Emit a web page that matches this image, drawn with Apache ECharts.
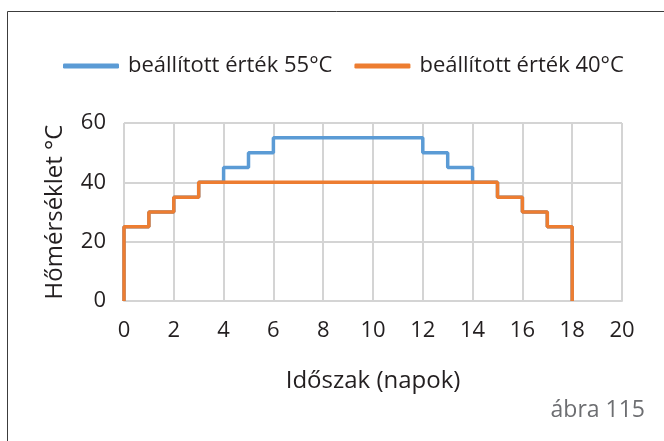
<!DOCTYPE html>
<html>
<head>
<meta charset="utf-8">
<script src="https://cdn.jsdelivr.net/npm/echarts@6/dist/echarts.min.js"></script>
<style>
  html, body { margin: 0; padding: 0; background: #fff; }
  #chart { width: 664px; height: 441px; }
</style>
</head>
<body>
<div id="chart"></div>
<script>
// Daily set-point temperatures (°C) for days 0..17 of the drying programme
const seriesNames = ['beállított érték 55°C', 'beállított érték 40°C'];
const days = [0, 1, 2, 3, 4, 5, 6, 7, 8, 9, 10, 11, 12, 13, 14, 15, 16, 17];
const temps55 = [25, 30, 35, 40, 45, 50, 55, 55, 55, 55, 55, 55, 50, 45, 40, 35, 30, 25];
const temps40 = [25, 30, 35, 40, 40, 40, 40, 40, 40, 40, 40, 40, 40, 40, 40, 35, 30, 25];
const programEnd = 18;
const xTicks = [0, 2, 4, 6, 8, 10, 12, 14, 16, 18, 20];
const yTicks = [0, 20, 40, 60];

// Turn the per-day values into a step outline that starts and ends at 0 °C
function stepOutline(dayList, values, endDay) {
  const pts = [[dayList[0], 0]];
  for (let i = 0; i < dayList.length; i++) {
    const next = i + 1 < dayList.length ? dayList[i + 1] : endDay;
    pts.push([dayList[i], values[i]]);
    pts.push([next, values[i]]);
  }
  pts.push([endDay, 0]);
  return pts;
}

const FONT = '"Open Sans", "Noto Sans", sans-serif';
const TEXT = '#231f20';
const GRID = '#d4d4d4';

const chart = echarts.init(document.getElementById('chart'), null, { renderer: 'canvas' });
chart.setOption({
  animation: false,
  textStyle: { fontFamily: FONT },
  legend: {
    left: 58,
    top: 50,
    icon: 'roundRect',
    itemWidth: 56,
    itemHeight: 5,
    itemGap: 22,
    textStyle: { fontFamily: FONT, fontSize: 22, color: TEXT, padding: [0, 0, 0, 4] },
    data: seriesNames
  },
  grid: { left: 124, right: 42, top: 123, bottom: 140, containLabel: false },
  xAxis: {
    type: 'value',
    min: xTicks[0],
    max: xTicks[xTicks.length - 1],
    interval: xTicks[1] - xTicks[0],
    name: 'Időszak (napok)',
    nameLocation: 'middle',
    nameGap: 68,
    nameTextStyle: { fontFamily: FONT, fontSize: 24, color: TEXT },
    axisLine: { show: true, lineStyle: { color: GRID, width: 2 } },
    axisTick: { show: false },
    axisLabel: { margin: 19, fontFamily: FONT, fontSize: 22, color: TEXT },
    splitLine: { show: true, lineStyle: { color: GRID, width: 2 } }
  },
  yAxis: {
    type: 'value',
    min: yTicks[0],
    max: yTicks[yTicks.length - 1],
    interval: yTicks[1] - yTicks[0],
    name: 'Hőmérséklet °C',
    nameLocation: 'middle',
    nameRotate: 90,
    nameGap: 57,
    nameTextStyle: { fontFamily: FONT, fontSize: 24, color: TEXT },
    axisLine: { show: false },
    axisTick: { show: false },
    axisLabel: { margin: 18, fontFamily: FONT, fontSize: 22, color: TEXT },
    splitLine: { show: true, lineStyle: { color: GRID, width: 2 } }
  },
  series: [
    {
      name: seriesNames[0],
      type: 'line',
      data: stepOutline(days, temps55, programEnd),
      showSymbol: false,
      symbol: 'none',
      lineStyle: { color: '#5b9bd5', width: 3.5 },
      itemStyle: { color: '#5b9bd5' },
      z: 2
    },
    {
      name: seriesNames[1],
      type: 'line',
      data: stepOutline(days, temps40, programEnd),
      showSymbol: false,
      symbol: 'none',
      lineStyle: { color: '#ed7d31', width: 3.5 },
      itemStyle: { color: '#ed7d31' },
      z: 3
    }
  ],
  graphic: [
    {
      type: 'rect',
      shape: { x: 7.5, y: 11.5, width: 700, height: 500 },
      style: { fill: 'none', stroke: '#3c3c3c', lineWidth: 1 },
      silent: true
    },
    {
      type: 'text',
      right: 19,
      top: 399,
      style: { text: 'ábra 115', font: '23px ' + FONT, fill: '#6d6e71' }
    }
  ]
});
</script>
</body>
</html>
